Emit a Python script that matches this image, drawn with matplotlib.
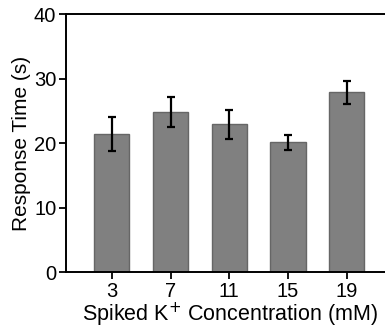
import matplotlib
matplotlib.use('Agg')
import matplotlib.pyplot as plt
import numpy as np

plt.rcParams['font.family'] = ['Liberation Sans', 'DejaVu Sans']

concentrations = ['3', '7', '11', '15', '19']
response_time = [21.4, 24.8, 22.9, 20.1, 27.85]
response_err = [2.6, 2.3, 2.3, 1.15, 1.75]

fig = plt.figure(figsize=(3.85, 3.35), dpi=100)
ax = fig.add_axes([0.1714, 0.188, 0.8286, 0.770])

x = np.arange(len(concentrations))
ax.bar(x, response_time, width=0.6, color='#808080', edgecolor='#666666', linewidth=1.0,
       yerr=response_err, capsize=3.2, error_kw=dict(ecolor='black', elinewidth=1.6, capthick=1.6))

ax.set_xlim(-0.78, 4.65)
ax.set_ylim(0, 40)
ax.set_yticks([0, 10, 20, 30, 40])
ax.set_xticks(x)
ax.set_xticklabels(concentrations)
ax.tick_params(axis='both', direction='out', length=5, width=1.3, labelsize=14.5, pad=2)

for side in ['left', 'bottom', 'top']:
    ax.spines[side].set_linewidth(1.4)
ax.spines['right'].set_visible(False)

ax.set_ylabel('Response Time (s)', fontsize=15, labelpad=2)
ax.set_xlabel('Spiked K$^{+}$ Concentration (mM)', fontsize=15.5, labelpad=0)
ax.xaxis.label.set_x(0.515)

fig.savefig('out.png', dpi=100)
